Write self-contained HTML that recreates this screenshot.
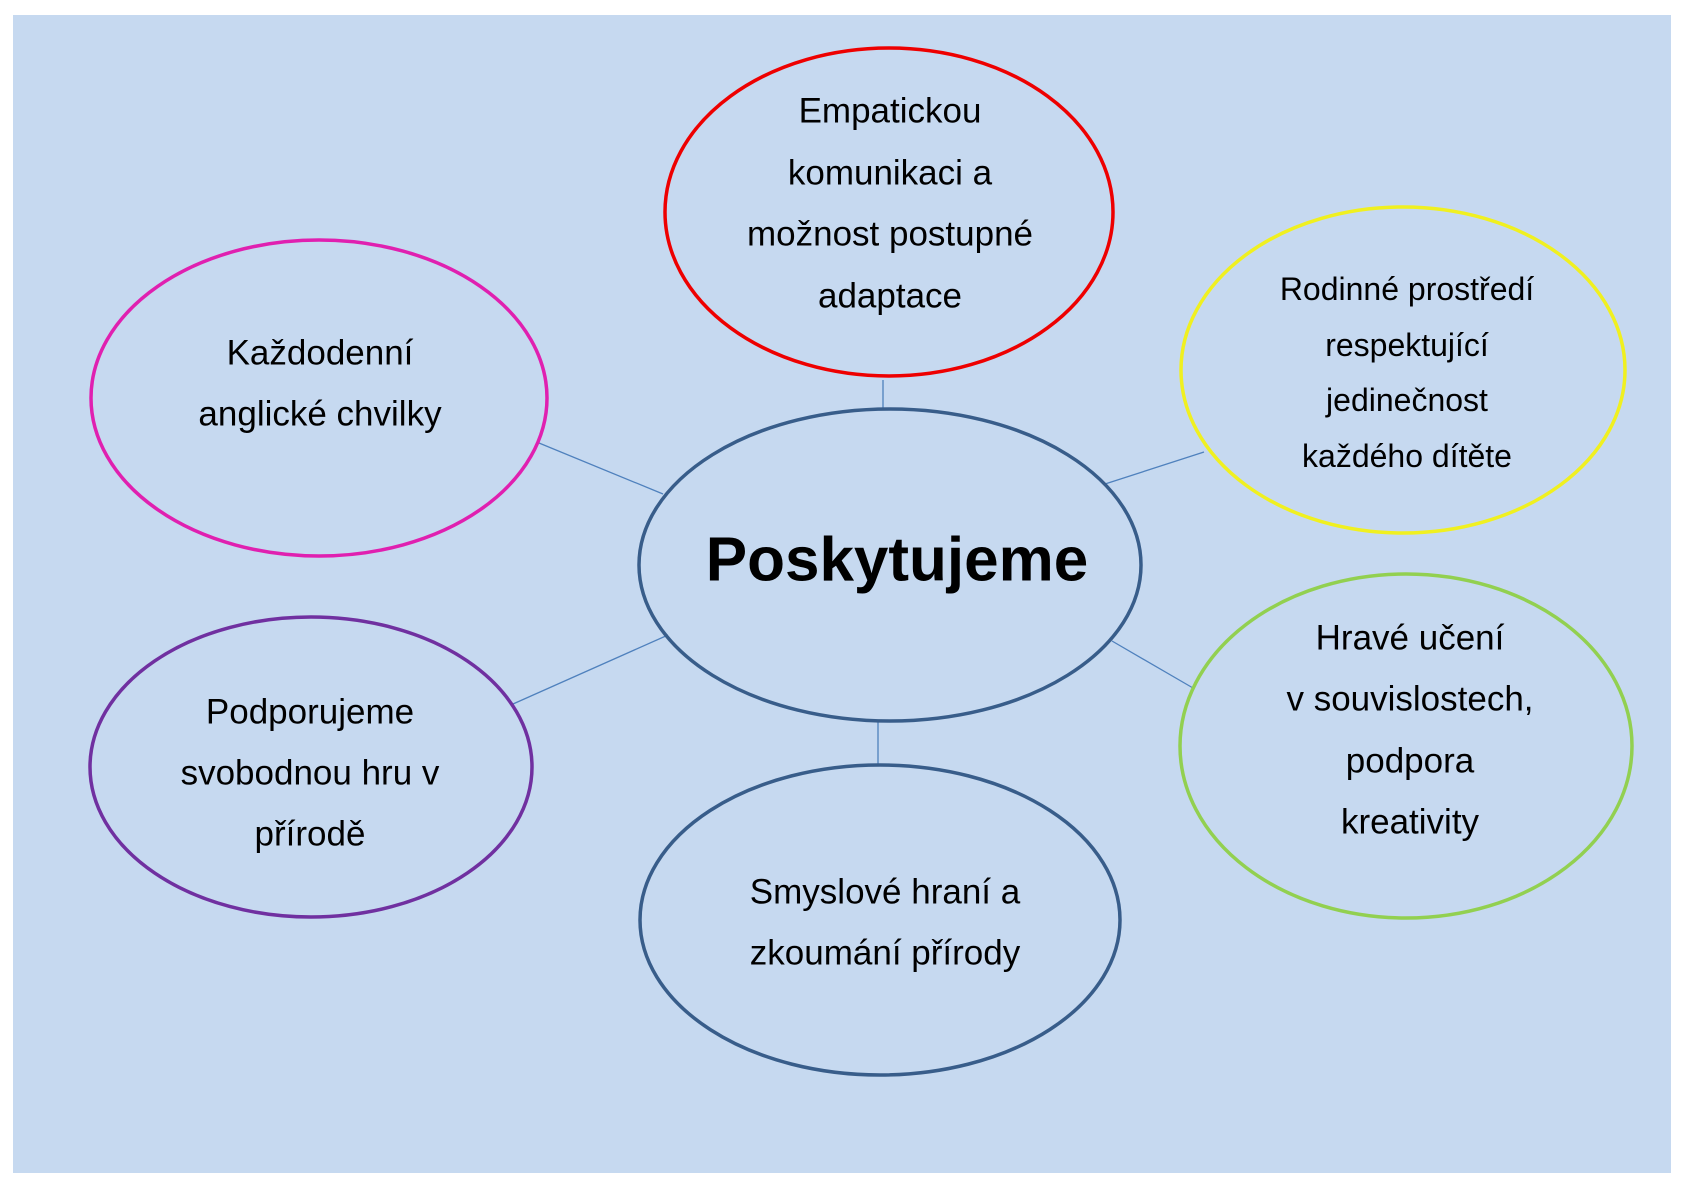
<!DOCTYPE html>
<html><head><meta charset="utf-8"><style>html,body{margin:0;padding:0;background:#fff}svg{display:block}</style></head>
<body>
<svg width="1683" height="1190" viewBox="0 0 1683 1190" xmlns="http://www.w3.org/2000/svg" font-family="'Liberation Sans', sans-serif" text-anchor="middle">
<rect x="13" y="15" width="1658" height="1158" fill="#c6d9f0"/>
<g stroke="#4f81bd" stroke-width="1.3">
<line x1="883" y1="380" x2="883" y2="408"/>
<line x1="539" y1="443" x2="663" y2="494"/>
<line x1="1204" y1="452" x2="1105" y2="484"/>
<line x1="513" y1="704" x2="668" y2="635"/>
<line x1="1112" y1="641" x2="1193" y2="688"/>
<line x1="878" y1="722" x2="878" y2="765"/>
</g>
<g fill="none" stroke-width="3.5">
<ellipse cx="890" cy="565" rx="251" ry="156" stroke="#385d8a"/>
<ellipse cx="889" cy="212" rx="224" ry="164" stroke="#ee0000"/>
<ellipse cx="319" cy="398" rx="228" ry="158" stroke="#e020b0"/>
<ellipse cx="1403" cy="370" rx="222" ry="163" stroke="#f0f020"/>
<ellipse cx="311" cy="767" rx="221" ry="150" stroke="#7030a0"/>
<ellipse cx="880" cy="920" rx="240" ry="155" stroke="#385d8a"/>
<ellipse cx="1406" cy="746" rx="226" ry="172" stroke="#92d050"/>
</g>
<g fill="#000" font-size="35" dominant-baseline="central">
<text x="890" y="111">Empatickou</text>
<text x="890" y="173">komunikaci a</text>
<text x="890" y="234">možnost postupné</text>
<text x="890" y="296">adaptace</text>
<text x="320" y="353">Každodenní</text>
<text x="320" y="414">anglické chvilky</text>
<text x="310" y="712">Podporujeme</text>
<text x="310" y="773">svobodnou hru v</text>
<text x="310" y="834">přírodě</text>
<text x="885" y="892">Smyslové hraní a</text>
<text x="885" y="953">zkoumání přírody</text>
<text x="1410" y="638">Hravé učení</text>
<text x="1410" y="699">v souvislostech,</text>
<text x="1410" y="761">podpora</text>
<text x="1410" y="822">kreativity</text>
<g font-size="32">
<text x="1407" y="289">Rodinné prostředí</text>
<text x="1407" y="345">respektující</text>
<text x="1407" y="400">jedinečnost</text>
<text x="1407" y="456">každého dítěte</text>
</g>
<text x="897" y="560" font-size="62" font-weight="bold">Poskytujeme</text>
</g>
</svg>
</body></html>
